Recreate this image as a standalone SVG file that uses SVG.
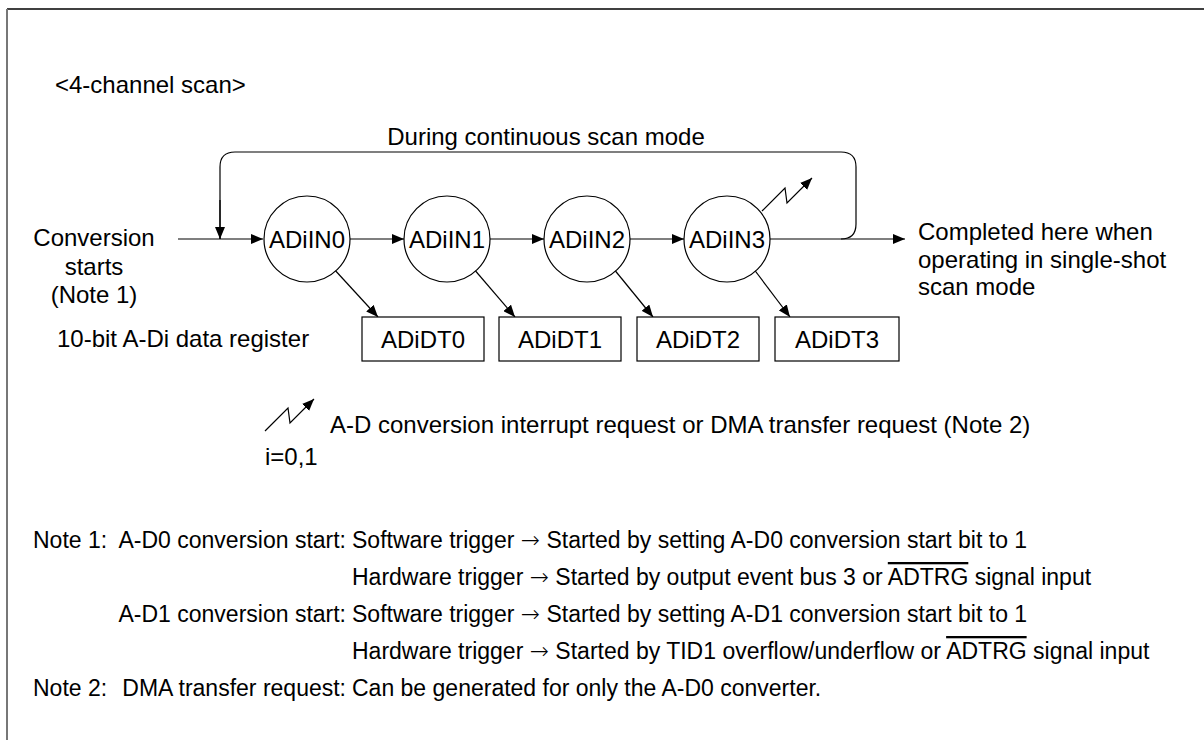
<svg xmlns="http://www.w3.org/2000/svg" width="1204" height="740" viewBox="0 0 1204 740">
<style>
text{font-family:"Liberation Sans",Arial,sans-serif;fill:#000}
.lb{font-size:24px}
.nt{font-size:23px}
.ar{font-family:"DejaVu Sans",sans-serif;font-size:23px;font-weight:200}
.ln{stroke:#000;stroke-width:1.2;fill:none}
.nd{stroke:#000;stroke-width:1.2;fill:#fff}
</style>
<defs>
<marker id="ah" viewBox="0 0 12 10" refX="12" refY="5" markerWidth="12" markerHeight="10" markerUnits="userSpaceOnUse" orient="auto">
<path d="M0,0 L12,5 L0,10 Z" fill="#000"/>
</marker>
</defs>
<rect width="1204" height="740" fill="#fff"/>
<path d="M7,9 H1204" stroke="#000" stroke-width="1.5"/>
<path d="M7,9 V740" stroke="#777" stroke-width="2"/>

<text class="lb" x="55" y="93">&lt;4-channel scan&gt;</text>
<text class="lb" x="546" y="145" text-anchor="middle">During continuous scan mode</text>
<text class="lb" text-anchor="middle"><tspan x="94" y="246">Conversion</tspan><tspan x="94" y="275">starts</tspan><tspan x="94" y="303">(Note 1)</tspan></text>
<text class="lb"><tspan x="918" y="240">Completed here when</tspan><tspan x="918" y="268">operating in single-shot</tspan><tspan x="918" y="295">scan mode</tspan></text>
<text class="lb" x="57" y="347">10-bit A-Di data register</text>

<g id="connectors">
<path class="ln" d="M178,239 H263" marker-end="url(#ah)"/>
<path class="ln" d="M220,239 V167 Q220,152 235,152 H841 Q856,152 856,167 V224 Q856,239 841,239" stroke="#444"/>
<path class="ln" d="M220,200 V239" marker-end="url(#ah)"/>
<path class="ln" d="M350,239 H404" marker-end="url(#ah)"/>
<path class="ln" d="M490,239 H544" marker-end="url(#ah)"/>
<path class="ln" d="M630,239 H684" marker-end="url(#ah)"/>
<path class="ln" d="M770,239 H905" marker-end="url(#ah)"/>
<path class="ln" d="M333,268 L378,317" marker-end="url(#ah)"/>
<path class="ln" d="M473,268 L515,317" marker-end="url(#ah)"/>
<path class="ln" d="M613,268 L653,317" marker-end="url(#ah)"/>
<path class="ln" d="M753,268 L790,317" marker-end="url(#ah)"/>
<path class="ln" d="M762,211 L785,188 L787,203 L812,178" marker-end="url(#ah)"/>
</g>

<g id="ADiIN0"><circle class="nd" cx="307" cy="239" r="43"/><text class="lb" x="307" y="248" text-anchor="middle">ADiIN0</text></g>
<g id="ADiIN1"><circle class="nd" cx="447" cy="239" r="43"/><text class="lb" x="447" y="248" text-anchor="middle">ADiIN1</text></g>
<g id="ADiIN2"><circle class="nd" cx="587" cy="239" r="43"/><text class="lb" x="587" y="248" text-anchor="middle">ADiIN2</text></g>
<g id="ADiIN3"><circle class="nd" cx="727" cy="239" r="43"/><text class="lb" x="727" y="248" text-anchor="middle">ADiIN3</text></g>

<g id="ADiDT0"><rect class="nd" x="362" y="317" width="122" height="44"/><text class="lb" x="423" y="348" text-anchor="middle">ADiDT0</text></g>
<g id="ADiDT1"><rect class="nd" x="499" y="317" width="122" height="44"/><text class="lb" x="560" y="348" text-anchor="middle">ADiDT1</text></g>
<g id="ADiDT2"><rect class="nd" x="637" y="317" width="122" height="44"/><text class="lb" x="698" y="348" text-anchor="middle">ADiDT2</text></g>
<g id="ADiDT3"><rect class="nd" x="775" y="317" width="124" height="44"/><text class="lb" x="837" y="348" text-anchor="middle">ADiDT3</text></g>

<g id="legend">
<path class="ln" d="M265,431 L288,408 L290,423 L314,399" marker-end="url(#ah)"/>
<text class="lb" x="330" y="433">A-D conversion interrupt request or DMA transfer request (Note 2)</text>
<text class="lb" x="265" y="465">i=0,1</text>
</g>

<g id="notes">
<text class="nt" x="33" y="548">Note 1:</text>
<text class="nt" x="346" y="548" text-anchor="end">A-D0 conversion start:</text>
<text class="nt" x="352" y="548">Software trigger <tspan class="ar">→</tspan> Started by setting A-D0 conversion start bit to 1</text>
<text class="nt" x="352" y="585">Hardware trigger <tspan class="ar">→</tspan> Started by output event bus 3 or <tspan text-decoration="overline">ADTRG</tspan> signal input</text>
<text class="nt" x="346" y="622" text-anchor="end">A-D1 conversion start:</text>
<text class="nt" x="352" y="622">Software trigger <tspan class="ar">→</tspan> Started by setting A-D1 conversion start bit to 1</text>
<text class="nt" x="352" y="659">Hardware trigger <tspan class="ar">→</tspan> Started by TID1 overflow/underflow or <tspan text-decoration="overline">ADTRG</tspan> signal input</text>
<text class="nt" x="33" y="696">Note 2:</text>
<text class="nt" x="346" y="696" text-anchor="end">DMA transfer request:</text>
<text class="nt" x="352" y="696">Can be generated for only the A-D0 converter.</text>
</g>
</svg>
